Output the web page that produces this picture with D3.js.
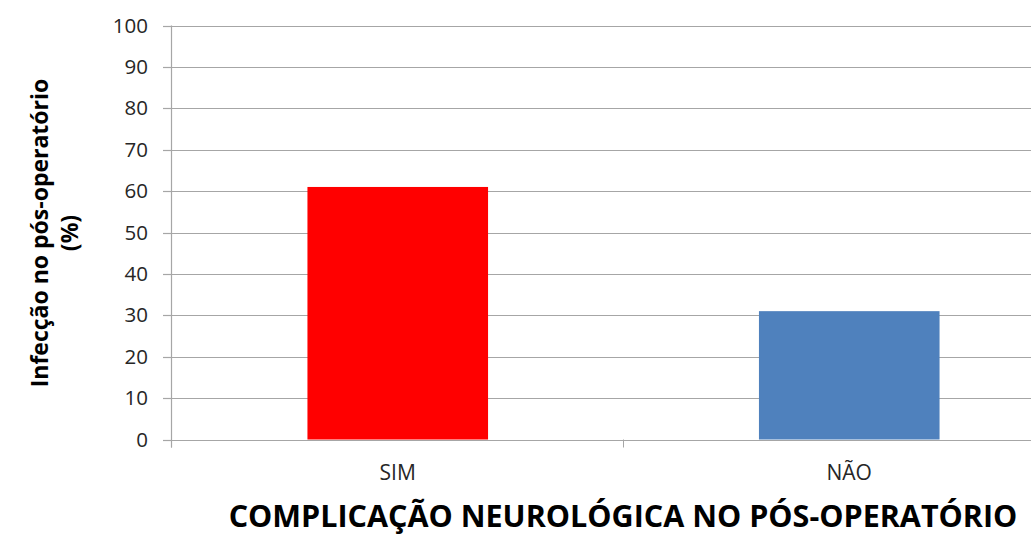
<!DOCTYPE html>
<html>
<head>
<meta charset="utf-8">
<script src="https://cdn.jsdelivr.net/npm/d3@7"></script>
<style>
  body { margin: 0; background: #fff; }
  svg { display: block; font-family: "Open Sans", sans-serif; }
</style>
</head>
<body>
<script>
var categories = ["SIM", "NÃO"];
var values = [61, 31];
var barColors = ["#ff0000", "#4f81bd"];
var yTicks = [0, 10, 20, 30, 40, 50, 60, 70, 80, 90, 100];
var xTitle = "COMPLICAÇÃO NEUROLÓGICA NO PÓS-OPERATÓRIO";
var yTitle = ["Infecção no pós-operatório", "(%)"];

var width = 1031;
var height = 537;
var plotLeft = 172;
var plotRight = 1075;
var plotTop = 25.5;
var plotBottom = 439.5;

var svg = d3.select("body").append("svg")
  .attr("width", width)
  .attr("height", height);

var xScale = d3.scaleBand()
  .domain(categories)
  .range([plotLeft, plotRight])
  .paddingInner(0.6)
  .paddingOuter(0.3);

var yScale = d3.scaleLinear()
  .domain([0, 100])
  .range([plotBottom, plotTop]);

var yPos = d => Math.round(yScale(d)) + 0.5;

// gridlines
svg.append("g")
  .selectAll("line")
  .data(yTicks)
  .enter()
  .append("line")
  .attr("x1", plotLeft)
  .attr("x2", plotRight)
  .attr("y1", yPos)
  .attr("y2", yPos)
  .attr("stroke", "#a6a6a6")
  .attr("stroke-width", 1.2);

// bars
svg.append("g")
  .selectAll("rect")
  .data(values)
  .enter()
  .append("rect")
  .attr("x", (d, i) => xScale(categories[i]))
  .attr("y", d => yScale(d))
  .attr("width", xScale.bandwidth())
  .attr("height", d => plotBottom - yScale(d))
  .attr("fill", (d, i) => barColors[i]);

// y axis
var yAxis = d3.axisLeft(yScale)
  .tickValues(yTicks)
  .tickSize(9)
  .tickPadding(15);

var gy = svg.append("g")
  .attr("transform", "translate(" + plotLeft + ",0)")
  .call(yAxis);
gy.select(".domain").remove();
gy.selectAll(".tick").attr("transform", d => "translate(0," + yPos(d) + ")");
gy.selectAll(".tick line").attr("stroke", "#a6a6a6").attr("stroke-width", 1.2);
gy.selectAll(".tick text")
  .attr("fill", "#262626")
  .style("font-size", "20.5px")
  .style("font-family", "Open Sans, sans-serif");

svg.append("line")
  .attr("x1", plotLeft - 0.5).attr("x2", plotLeft - 0.5)
  .attr("y1", plotTop).attr("y2", plotBottom + 8)
  .attr("stroke", "#a6a6a6")
  .attr("stroke-width", 1.2);

// x axis
var step = (plotRight - plotLeft) / categories.length;
var xAxis = d3.axisBottom(xScale).tickSize(0).tickPadding(26);
var gx = svg.append("g")
  .attr("transform", "translate(0," + plotBottom + ")")
  .call(xAxis);
gx.select(".domain").remove();
gx.selectAll(".tick text")
  .attr("fill", "#262626")
  .style("font-size", "21px")
  .style("font-family", "Open Sans, sans-serif");

svg.append("g")
  .selectAll("line")
  .data(d3.range(categories.length + 1))
  .enter()
  .append("line")
  .attr("x1", d => Math.round(plotLeft + d * step) - 0.5)
  .attr("x2", d => Math.round(plotLeft + d * step) - 0.5)
  .attr("y1", plotBottom)
  .attr("y2", plotBottom + 8)
  .attr("stroke", "#a6a6a6");

// titles
svg.append("text")
  .attr("x", 623)
  .attr("y", 527)
  .attr("text-anchor", "middle")
  .attr("font-weight", "bold")
  .attr("font-size", 30.5)
  .attr("fill", "#000")
  .text(xTitle);

var yt = svg.append("text")
  .attr("transform", "translate(0,233) rotate(-90)")
  .attr("text-anchor", "middle")
  .attr("font-weight", "bold")
  .attr("font-size", 23)
  .attr("fill", "#000");
yt.selectAll("tspan")
  .data(yTitle)
  .enter()
  .append("tspan")
  .attr("x", 0)
  .attr("y", (d, i) => 48 + i * 30)
  .text(d => d);
</script>
</body>
</html>
